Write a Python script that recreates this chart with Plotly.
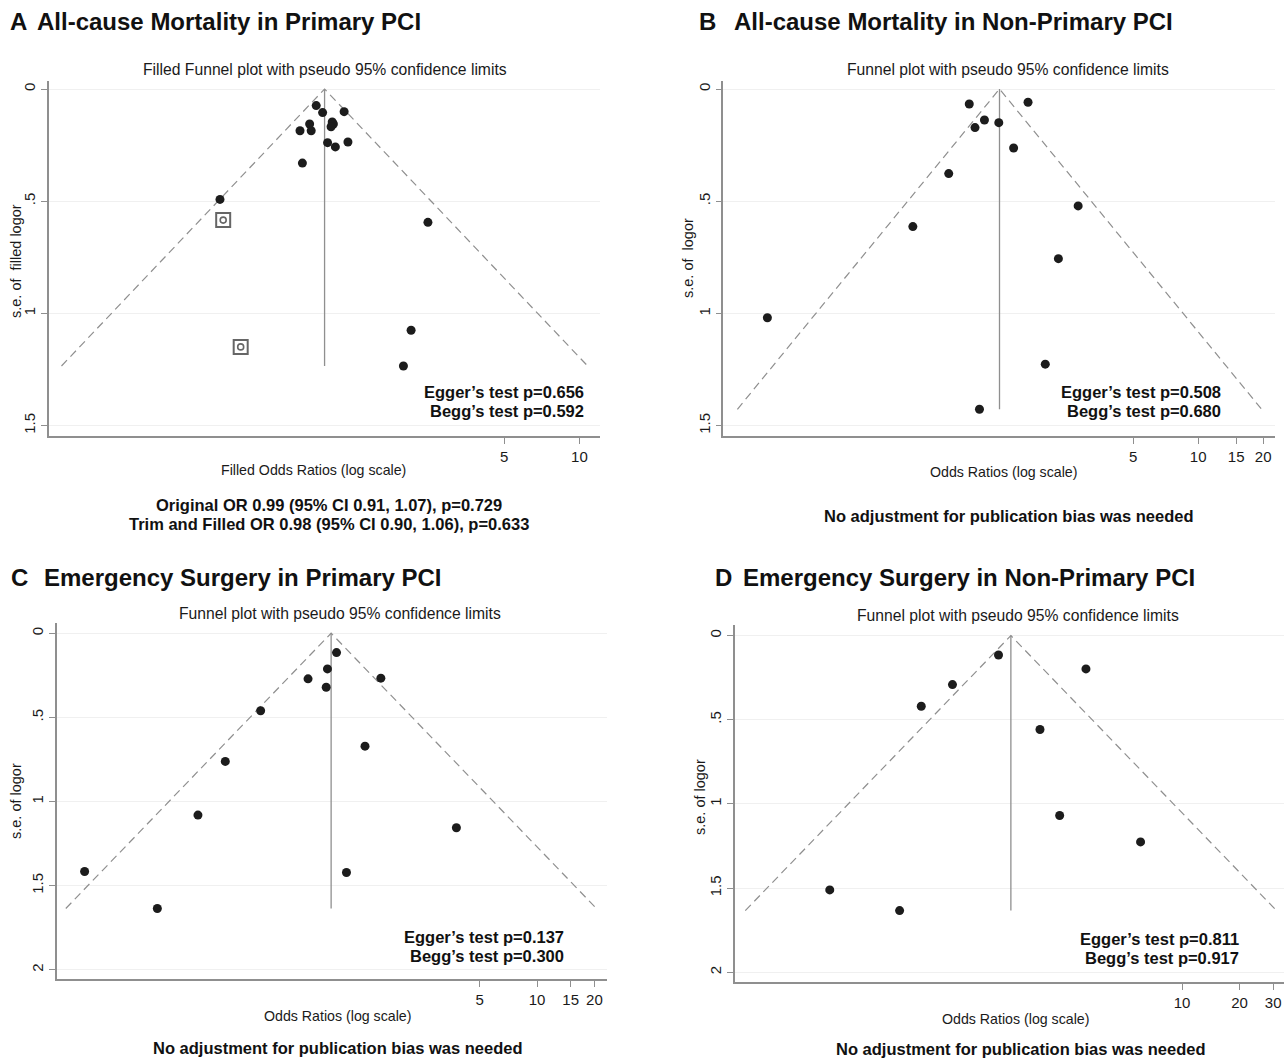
import math
import plotly.graph_objects as go

W, H = 1284, 1060

# ---------------- data ----------------
# Panel A: All-cause mortality in primary PCI (trim and fill)
a_or = [0.889, 0.943, 1.149, 0.837, 1.030, 1.041, 1.019, 0.766, 0.849, 0.987,
        1.060, 1.190, 0.783, 0.367, 2.483, 2.127, 1.982]
a_se = [0.074, 0.105, 0.101, 0.156, 0.147, 0.156, 0.168, 0.186, 0.186, 0.239,
        0.258, 0.236, 0.330, 0.492, 0.594, 1.075, 1.234]
a_fill_or = [0.378, 0.444]
a_fill_se = [0.584, 1.149]
a_center = 0.96
a_ticks = [5, 10]

# Panel B: All-cause mortality in non-primary PCI
b_or = [0.869, 1.627, 0.924, 1.022, 1.191, 1.395, 0.698, 0.476, 2.778, 2.250,
        0.1008, 1.956, 0.969]
b_se = [0.067, 0.059, 0.172, 0.138, 0.150, 0.263, 0.377, 0.613, 0.521, 0.756,
        1.019, 1.226, 1.427]
b_center = 1.20
b_ticks = [5, 10, 15, 20]

# Panel C: Emergency surgery in primary PCI
c_or = [0.886, 0.794, 0.628, 0.782, 1.514, 0.354, 1.250, 0.231, 0.166, 3.772,
        0.0422, 0.999, 0.1016]
c_se = [0.115, 0.212, 0.271, 0.321, 0.267, 0.461, 0.671, 0.762, 1.081, 1.156,
        1.416, 1.422, 1.636]
c_center = 0.83
c_ticks = [5, 10, 15, 20]

# Panel D: Emergency surgery in non-primary PCI
d_or = [1.094, 3.140, 0.628, 0.431, 1.804, 2.287, 6.066, 0.143, 0.332]
d_se = [0.115, 0.198, 0.291, 0.420, 0.558, 1.069, 1.226, 1.511, 1.634]
d_center = 1.27
d_ticks = [10, 20, 30]

y_ticks_ab = [0, 0.5, 1, 1.5]
y_ticks_cd = [0, 0.5, 1, 1.5, 2]
y_ticktext = {0: "0", 0.5: ".5", 1: "1", 1.5: "1.5", 2: "2"}

titles = ["All-cause Mortality in Primary PCI", "All-cause Mortality in Non-Primary PCI",
          "Emergency Surgery in Primary PCI", "Emergency Surgery in Non-Primary PCI"]
letters = ["A", "B", "C", "D"]
subtitles = ["Filled Funnel plot with pseudo 95% confidence limits",
             "Funnel plot with pseudo 95% confidence limits",
             "Funnel plot with pseudo 95% confidence limits",
             "Funnel plot with pseudo 95% confidence limits"]
xtitles = ["Filled Odds Ratios (log scale)", "Odds Ratios (log scale)",
           "Odds Ratios (log scale)", "Odds Ratios (log scale)"]
ytitles = ["s.e. of\u00a0 filled logor", "s.e. of\u00a0 logor", "s.e. of logor", "s.e. of logor"]
tests = [("Egger\u2019s test p=0.656", "Begg\u2019s test p=0.592"),
         ("Egger\u2019s test p=0.508", "Begg\u2019s test p=0.680"),
         ("Egger\u2019s test p=0.137", "Begg\u2019s test p=0.300"),
         ("Egger\u2019s test p=0.811", "Begg\u2019s test p=0.917")]
footnotes = [["Original OR 0.99 (95% CI 0.91, 1.07), p=0.729",
              "Trim and Filled OR 0.98 (95% CI 0.90, 1.06), p=0.633"],
             ["No adjustment for publication bias was needed"],
             ["No adjustment for publication bias was needed"],
             ["No adjustment for publication bias was needed"]]

# ---------------- layout geometry (pixels) ----------------
panels = [
    dict(ors=a_or, ses=a_se, center=a_center, xticks=a_ticks, yticks=y_ticks_ab,
         xpx=(49, 600), ypx=(80.7, 436), xr=(-1.118, 1.082), yr=(1.546, -0.037)),
    dict(ors=b_or, ses=b_se, center=b_center, xticks=b_ticks, yticks=y_ticks_ab,
         xpx=(723.4, 1275), ypx=(80.7, 436), xr=(-1.2004, 1.356), yr=(1.546, -0.037)),
    dict(ors=c_or, ses=c_se, center=c_center, xticks=c_ticks, yticks=y_ticks_cd,
         xpx=(56.5, 607), ypx=(623.3, 979), xr=(-1.5223, 1.367), yr=(2.055, -0.059)),
    dict(ors=d_or, ses=d_se, center=d_center, xticks=d_ticks, yticks=y_ticks_cd,
         xpx=(734.9, 1284), ypx=(625, 982.3), xr=(-1.3414, 1.534), yr=(2.06, -0.063)),
]

letter_pos = [(8, 22), (697, 22), (9, 577), (713, 577)]
title_pos = [(35, 22), (732, 22), (42, 577), (741, 577)]
sub_pos = [(325, 69), (1008, 69), (340, 613), (1018, 615)]
xt_pos = [(313, 470), (1003, 472), (338, 1016), (1015, 1019)]
yt_pos = [(16, 261), (688, 258), (16, 801), (700, 797)]
test_pos = [(586, 392), (1223, 392), (566, 937), (1241, 939)]
foot_pos = [(329, 505), (1008, 516), (338, 1048), (1020, 1049)]

TXT = "#1a1a1a"
FONT = "Liberation Sans, Arial, sans-serif"
GRAY = "#8f8f8f"

def fx(px):
    return px / W

def fy(py):
    return 1 - py / H

fig = go.Figure()
annotations = []
layout_axes = {}

def note(x, y, text, size, xanchor="center", angle=0, color=TXT):
    annotations.append(dict(x=fx(x), y=fy(y), xref="paper", yref="paper",
                            xanchor=xanchor, yanchor="middle", showarrow=False,
                            textangle=angle, text=text,
                            font=dict(size=size, color=color, family=FONT)))

for i, p in enumerate(panels):
    n = i + 1
    xa = "x" if n == 1 else f"x{n}"
    ya = "y" if n == 1 else f"y{n}"
    se_max = max(p["ses"] + (a_fill_se if i == 0 else []))
    half = 1.96 * se_max
    c = p["center"]
    lo = math.exp(math.log(c) - half)
    hi = math.exp(math.log(c) + half)
    # funnel limits
    fig.add_trace(go.Scatter(x=[lo, c, hi], y=[se_max, 0, se_max], mode="lines",
                             line=dict(color=GRAY, width=1.2, dash="8px,5px"),
                             xaxis=xa, yaxis=ya, showlegend=False, hoverinfo="skip"))
    # pooled estimate line
    fig.add_trace(go.Scatter(x=[c, c], y=[0, se_max], mode="lines",
                             line=dict(color=GRAY, width=1.3),
                             xaxis=xa, yaxis=ya, showlegend=False, hoverinfo="skip"))
    if i == 0:
        fig.add_trace(go.Scatter(x=a_fill_or, y=a_fill_se, mode="markers",
                                 marker=dict(symbol="square-open", size=14, color="#666666",
                                             line=dict(width=2, color="#666666")),
                                 xaxis=xa, yaxis=ya, showlegend=False))
        fig.add_trace(go.Scatter(x=a_fill_or, y=a_fill_se, mode="markers",
                                 marker=dict(symbol="circle-open", size=6, color="#666666",
                                             line=dict(width=1.6, color="#666666")),
                                 xaxis=xa, yaxis=ya, showlegend=False))
    fig.add_trace(go.Scatter(x=p["ors"], y=p["ses"], mode="markers",
                             marker=dict(size=9, color="#1c1c1c"),
                             xaxis=xa, yaxis=ya, showlegend=False))

    xkey = "xaxis" if n == 1 else f"xaxis{n}"
    ykey = "yaxis" if n == 1 else f"yaxis{n}"
    layout_axes[xkey] = dict(
        type="log", domain=[fx(p["xpx"][0]), fx(p["xpx"][1])], range=list(p["xr"]),
        anchor=ya, tickvals=p["xticks"], ticktext=[str(t) for t in p["xticks"]],
        ticks="outside", ticklen=6, tickcolor=GRAY, tickwidth=1.2,
        showline=True, linecolor=GRAY, linewidth=1.5, showgrid=False,
        zeroline=False, tickfont=dict(size=15, color=TXT, family=FONT), fixedrange=True)
    layout_axes[ykey] = dict(
        domain=[fy(p["ypx"][1]), fy(p["ypx"][0])], range=list(p["yr"]), anchor=xa,
        tickvals=p["yticks"], ticktext=[y_ticktext[t] for t in p["yticks"]],
        tickangle=-90, ticks="outside", ticklen=6, tickcolor=GRAY, tickwidth=1.2,
        showline=True, linecolor=GRAY, linewidth=1.5, showgrid=True,
        gridcolor="#f0f0f0", gridwidth=1, zeroline=False,
        tickfont=dict(size=15, color=TXT, family=FONT), fixedrange=True)

    lx, ly = letter_pos[i]
    note(lx, ly, f"<b>{letters[i]}</b>", 24, xanchor="left", color="#111111")
    tx, ty = title_pos[i]
    note(tx, ty, f"<b>{titles[i]}</b>", 24, xanchor="left", color="#111111")
    sx, sy = sub_pos[i]
    note(sx, sy, subtitles[i], 15.7)
    xx, xy = xt_pos[i]
    note(xx, xy, xtitles[i], 14.2)
    yx, yy = yt_pos[i]
    note(yx, yy, ytitles[i], 14.5, angle=-90)
    ex, ey = test_pos[i]
    for k, line in enumerate(tests[i]):
        note(ex, ey + 19 * k, f"<b>{line}</b>", 16.5, xanchor="right", color="#111111")
    bx, by = foot_pos[i]
    for k, line in enumerate(footnotes[i]):
        note(bx, by + 19 * k, f"<b>{line}</b>", 16.5, color="#111111")

fig.update_layout(width=W, height=H, margin=dict(l=0, r=0, t=0, b=0),
                  paper_bgcolor="white", plot_bgcolor="white",
                  annotations=annotations, font=dict(family=FONT, color=TXT),
                  **layout_axes)

fig.write_html("out.html", config={"displayModeBar": False})
